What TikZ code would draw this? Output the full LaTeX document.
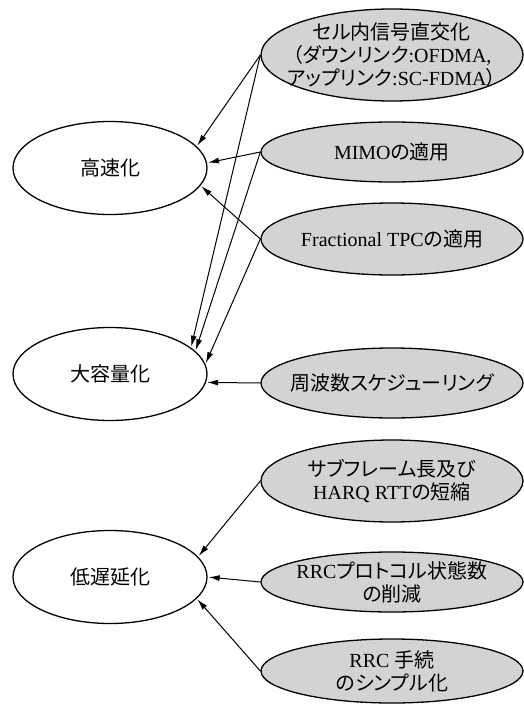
\documentclass[tikz,border=0pt]{standalone}
\usepackage{fontspec}
\setmainfont{Liberation Serif}
\newfontfamily\cjk[RawFeature={+palt}]{Noto Sans CJK JP}
\newcommand\jp[1]{{\cjk #1}}
\usetikzlibrary{shapes.geometric,arrows.meta}
\definecolor{nodegray}{RGB}{210,211,213}
\begin{document}
\begin{tikzpicture}[x=1pt,y=-1pt,
  every node/.style={font=\fontsize{20}{23}\selectfont},
  goal/.style={ellipse, draw, line width=1.3pt, fill=white, inner sep=0pt,
    minimum width=194pt, minimum height=93pt},
  means/.style={ellipse, draw, line width=1.3pt, fill=nodegray, inner sep=0pt,
    minimum width=262pt},
  txt/.style={align=center, inner sep=0pt},
  arr/.style={-{Latex[length=11pt,width=6pt]}, line width=1pt, shorten >=1pt}]
\useasboundingbox (0,0) rectangle (524,704);

% goal ellipses
\node[goal] (kou) at (110,168) {\jp{高速化}};
\node[goal] (dai) at (110,374) {\jp{大容量化}};
\node[goal] (tei) at (110,577) {\jp{低遅延化}};

% means ellipses
\node[means, minimum height=92pt] (sel)  at (392,55)  {};
\node[means, minimum height=60pt] (mimo) at (392,152) {};
\node[means, minimum height=72pt] (ftpc) at (392,239) {};
\node[means, minimum height=70pt] (shu)  at (392,383) {};
\node[means, minimum height=82pt] (sub)  at (392,481) {};
\node[means, minimum height=60pt] (rrcp) at (392,582) {};
\node[means, minimum height=64pt] (rrct) at (392,671) {};

% texts
\node[txt] (sel-t)  at (sel)  {\jp{セル内信号直交化}\\\jp{（ダウンリンク}:OFDMA,\\\jp{アップリンク}:SC-FDMA\jp{）}};
\node[txt] (mimo-t) at (mimo) {MIMO\jp{の適用}};
\node[txt] (ftpc-t) at (ftpc) {Fractional TPC\jp{の適用}};
\node[txt] (shu-t)  at (shu)  {\jp{周波数スケジューリング}};
\node[txt] (sub-t)  at (sub)  {\jp{サブフレーム長及び}\\HARQ RTT\jp{の短縮}};
\node[txt] (rrcp-t) at (rrcp) {RRC\jp{プロトコル状態数}\\\jp{の削減}};
\node[txt] (rrct-t) at (rrct) {RRC \jp{手続}\\\jp{のシンプル化}};

% connectors
\draw[arr] (sel.west)  -- (kou.14);
\draw[arr] (sel.west)  -- (dai.18);
\draw[arr] (mimo.west) -- (kou.3);
\draw[arr] (mimo.west) -- (dai.15);
\draw[arr] (ftpc.west) -- (kou.-11);
\draw[arr] (ftpc.west) -- (dai.6);
\draw[arr] (shu.west)  -- (dai.-5);
\draw[arr] (sub.west)  -- (tei.13);
\draw[arr] (rrcp.west) -- (tei.0);
\draw[arr] (rrct.west) -- (tei.-14);
\end{tikzpicture}
\end{document}
